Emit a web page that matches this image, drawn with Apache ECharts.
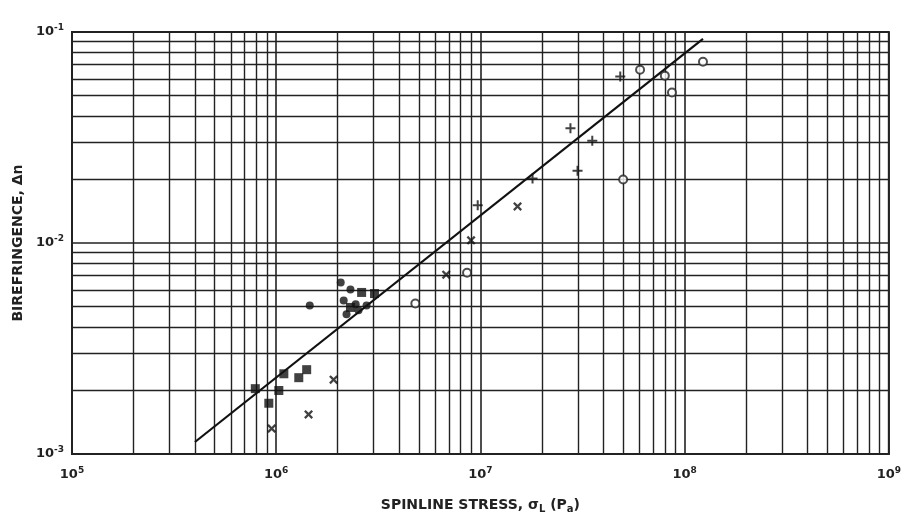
<!DOCTYPE html>
<html>
<head>
<meta charset="utf-8">
<script src="https://cdn.jsdelivr.net/npm/echarts@6/dist/echarts.min.js"></script>
<style>
html,body{margin:0;padding:0;background:#fff;}
#chart{width:904px;height:519px;}
</style>
</head>
<body>
<div id="chart"></div>
<script>
// Spinline stress (Pa) vs birefringence
const filledSquares = [
  [7.9e5, 2.04e-3], [9.2e5, 1.74e-3], [1.03e6, 2.0e-3], [1.09e6, 2.4e-3],
  [1.29e6, 2.3e-3], [1.41e6, 2.51e-3],
  [2.62e6, 5.83e-3], [3.03e6, 5.76e-3], [2.31e6, 4.95e-3]
];
const filledCircles = [
  [1.46e6, 5.06e-3], [2.07e6, 6.49e-3], [2.31e6, 6.02e-3], [2.14e6, 5.34e-3],
  [2.45e6, 5.12e-3], [2.21e6, 4.59e-3], [2.53e6, 4.8e-3], [2.77e6, 5.06e-3]
];
const crosses = [
  [9.5e5, 1.32e-3], [1.44e6, 1.54e-3], [1.91e6, 2.25e-3], [6.8e6, 7.08e-3],
  [9.0e6, 1.03e-2], [1.52e7, 1.49e-2]
];
const pluses = [
  [9.7e6, 1.51e-2], [1.8e7, 2.02e-2], [2.76e7, 3.5e-2], [2.99e7, 2.2e-2],
  [3.53e7, 3.05e-2], [4.84e7, 6.15e-2]
];
const openCircles = [
  [4.8e6, 5.17e-3], [8.6e6, 7.23e-3], [5.0e7, 2.0e-2], [6.05e7, 6.63e-2],
  [8.0e7, 6.21e-2], [8.67e7, 5.17e-2], [1.23e8, 7.23e-2]
];
const fitLine = [[4.0e5, 1.14e-3], [1.23e8, 9.27e-2]];
const xRange = [1e5, 1e9];
const yRange = [1e-3, 1e-1];

const ink = '#222';
const font = 'DejaVu Sans';

function powLabel(v) {
  const e = Math.round(Math.log10(v));
  return '{b|10}{s|' + e + '}';
}
const labelRich = {
  b: {fontFamily: font, fontWeight: 'bold', fontSize: 13, color: ink},
  s: {fontFamily: font, fontWeight: 'bold', fontSize: 9, color: ink, padding: [0, 0, 8, 0]}
};

const crossPath = 'path://M0,1.8L1.8,0L5,3.2L8.2,0L10,1.8L6.8,5L10,8.2L8.2,10L5,6.8L1.8,10L0,8.2L3.2,5Z';
const plusPath = 'path://M4,0H6V4H10V6H6V10H4V6H0V4H4Z';

const chart = echarts.init(document.getElementById('chart'));
chart.setOption({
  animation: false,
  backgroundColor: '#fff',
  grid: {left: 72, right: 11, top: 32, bottom: 61, show: true, borderColor: ink, borderWidth: 2},
  xAxis: {
    type: 'log', logBase: 10, min: xRange[0], max: xRange[1], splitNumber: 4,
    name: '{t|SPINLINE STRESS, σ}{sub|L}{t| (P}{sub|a}{t|)}',
    nameLocation: 'middle', nameGap: 42,
    nameTextStyle: {
      rich: {
        t: {fontFamily: font, fontWeight: 'bold', fontSize: 14, color: ink},
        sub: {fontFamily: font, fontWeight: 'bold', fontSize: 10, color: ink, padding: [8, 0, 0, 0]}
      }
    },
    axisLine: {show: true, lineStyle: {color: ink, width: 2}},
    axisTick: {show: false},
    axisLabel: {formatter: powLabel, rich: labelRich, margin: 12},
    splitLine: {show: true, lineStyle: {color: ink, width: 1.6}},
    minorTick: {show: false, splitNumber: 9},
    minorSplitLine: {show: true, lineStyle: {color: ink, width: 1.4}}
  },
  yAxis: {
    type: 'log', logBase: 10, min: yRange[0], max: yRange[1], splitNumber: 2,
    name: 'BIREFRINGENCE, Δn',
    nameLocation: 'middle', nameGap: 46, nameRotate: 90,
    nameTextStyle: {fontFamily: font, fontWeight: 'bold', fontSize: 14, color: ink},
    axisLine: {show: true, lineStyle: {color: ink, width: 2}},
    axisTick: {show: false},
    axisLabel: {formatter: powLabel, rich: labelRich, margin: 8},
    splitLine: {show: true, lineStyle: {color: ink, width: 1.6}},
    minorTick: {show: false, splitNumber: 9},
    minorSplitLine: {show: true, lineStyle: {color: ink, width: 1.4}}
  },
  series: [
    {type: 'line', data: fitLine, showSymbol: false, symbol: 'none',
     lineStyle: {color: '#111', width: 2.2}, z: 3},
    {type: 'scatter', data: filledSquares, symbol: 'rect', symbolSize: 9,
     itemStyle: {color: '#111'}, z: 4},
    {type: 'scatter', data: filledCircles, symbol: 'circle', symbolSize: 8,
     itemStyle: {color: '#111'}, z: 4},
    {type: 'scatter', data: crosses, symbol: crossPath, symbolSize: 9,
     itemStyle: {color: '#111'}, z: 4},
    {type: 'scatter', data: pluses, symbol: plusPath, symbolSize: 10,
     itemStyle: {color: '#111'}, z: 4},
    {type: 'scatter', data: openCircles, symbol: 'emptyCircle', symbolSize: 8,
     itemStyle: {color: '#222', borderWidth: 1.5}, z: 4}
  ]
});
</script>
</body>
</html>
